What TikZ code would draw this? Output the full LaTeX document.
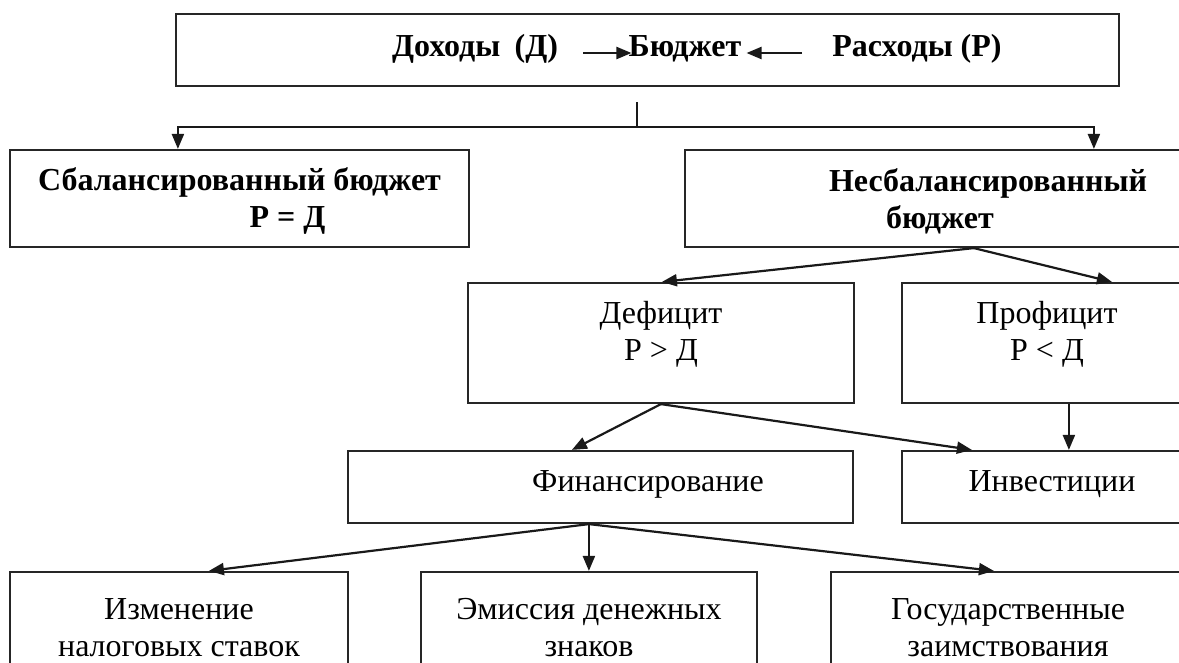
\documentclass[tikz,border=0pt]{standalone}
\usepackage{fontspec}
\setmainfont{Liberation Serif}
\usetikzlibrary{arrows.meta}

\begin{document}
\begin{tikzpicture}[x=1pt, y=-1pt]
	\tikzset{box/.style={rectangle, draw=black!85, line width=2.2pt, inner sep=0pt}};
	\tikzset{txt/.style={font=\fontsize{32}{37}\selectfont, align=center, inner sep=0pt}};
	\tikzset{btxt/.style={txt, font=\fontsize{32}{37}\selectfont\bfseries}};
	\tikzset{arr/.style={-{Triangle[length=15pt, width=12pt]}, line width=2.2pt, black!90}};

	\useasboundingbox (0,0) rectangle (1179,662);
	\clip (0,0) rectangle (1179,662);

	% boxes
	\node[box, minimum width=943pt, minimum height=72pt] (budget) at (647.5,50) {};
	\node[box, minimum width=459pt, minimum height=97pt] (bal) at (239.5,198.5) {};
	\node[box, minimum width=510pt, minimum height=97pt] (unbal) at (940,198.5) {};
	\node[box, minimum width=386pt, minimum height=120pt] (def) at (661,343) {};
	\node[box, minimum width=290pt, minimum height=120pt] (prof) at (1047,343) {};
	\node[box, minimum width=505pt, minimum height=72pt] (fin) at (600.5,487) {};
	\node[box, minimum width=300pt, minimum height=72pt] (inv) at (1052,487) {};
	\node[box, minimum width=338pt, minimum height=109pt] (tax) at (179,626.5) {};
	\node[box, minimum width=336pt, minimum height=109pt] (emis) at (589,626.5) {};
	\node[box, minimum width=354pt, minimum height=109pt] (loan) at (1008,626.5) {};

	% texts
	\node[btxt] (doh) at (475,49) {Доходы\hspace{0.45em}(Д)};
	\node[btxt] (bud) at (685,49) {Бюджет};
	\node[btxt] (rash) at (917,49) {Расходы (Р)};
	\node[btxt] (bal-t) at (239.5,201) {Сбалансированный бюджет\\\hspace*{96pt}Р = Д};
	\node[btxt] (unbal-t) at (940,201) {\hspace*{96pt}Несбалансированный\\бюджет};
	\node[txt] (def-t) at (661,334) {Дефицит\\Р > Д};
	\node[txt] (prof-t) at (1047,334) {Профицит\\Р < Д};
	\node[txt] (fin-t) at (648,484) {Финансирование};
	\node[txt] (inv-t) at (1052,484) {Инвестиции};
	\node[txt] (tax-t) at (179,628) {Изменение\\налоговых ставок};
	\node[txt] (emis-t) at (589,628) {Эмиссия денежных\\знаков};
	\node[txt] (loan-t) at (1008,628) {Государственные\\заимствования};

	% arrows
	\draw[arr] ([xshift=25pt, yshift=-4pt]doh.east) -- ([xshift=3pt, yshift=-4pt]bud.west);
	\draw[arr] ([xshift=-30pt, yshift=-4pt]rash.west) -- ([xshift=5pt, yshift=-4pt]bud.east);

	\coordinate (stem) at (637,102);
	\coordinate (fork) at (637,127);
	\draw[line width=2.2pt, black!90] (stem) -- (fork);
	\draw[arr] (fork) -| ([xshift=169pt]bal.north west);
	\draw[arr] (fork) -| ([xshift=410pt]unbal.north west);

	\coordinate (ub) at ([xshift=290pt]unbal.south west);
	\draw[arr] (ub) -- ([xshift=195pt]def.north west);
	\draw[arr] (ub) -- ([xshift=211pt]prof.north west);

	\coordinate (db) at ([xshift=194pt]def.south west);
	\draw[arr] (db) -- ([xshift=225pt]fin.north west);
	\draw[arr] (db) -- ([xshift=71pt]inv.north west);
	\draw[arr] ([xshift=168pt]prof.south west) -- ([xshift=168pt]inv.north west);

	\coordinate (fb) at ([xshift=242pt]fin.south west);
	\draw[arr] (fb) -- ([xshift=200pt]tax.north west);
	\draw[arr] (fb) -- (fb |- emis.north);
	\draw[arr] (fb) -- ([xshift=164pt]loan.north west);

\end{tikzpicture}
\end{document}
